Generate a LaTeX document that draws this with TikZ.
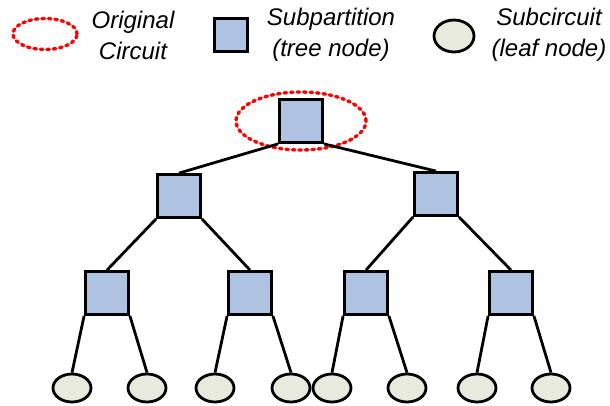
\documentclass[tikz,border=0pt]{standalone}
\usepackage{fontspec}
\setmainfont{Liberation Sans}
\usepackage{tikz}
\usetikzlibrary{shapes}
\definecolor{boxblue}{RGB}{174,194,226}
\definecolor{leafgray}{RGB}{232,234,222}
\definecolor{red}{RGB}{255,0,0}
\begin{document}
\begin{tikzpicture}[x=1pt,y=-1pt]
			\tikzset{tnode/.style={draw, line width=2.8pt, fill=boxblue, minimum size=43pt, inner sep=0pt},
				leaf/.style={draw, ellipse, line width=2.8pt, fill=leafgray, minimum width=38pt, minimum height=28pt, inner sep=0pt},
				orig/.style={draw=red, ellipse, line width=3.4pt, line cap=round, dash pattern=on 2.5pt off 4pt, inner sep=0pt},
				lien/.style={line width=2.8pt},
				legende/.style={align=center, font=\fontsize{24}{31}\selectfont\itshape}};
			\useasboundingbox (0,0) rectangle (610,406);
			% legend
			\node [orig, minimum width=64pt, minimum height=31pt] (legorig) at (45,34) {};
			\node [legende] (txtorig) at (133,35) {Original\\Circuit};
			\node [tnode, minimum size=33pt] (legbox) at (231,35) {};
			\node [legende] (txtbox) at (331,35) {Subpartition\\(tree node)};
			\node [leaf, minimum width=40pt, minimum height=32pt] (legleaf) at (454,36) {};
			\node [legende] (txtleaf) at (549,35) {Subcircuit\\(leaf node)};
			% tree
			\node [tnode] (root) at (301,121) {};
			\node [orig, minimum width=130pt, minimum height=58pt] (circuit) at (301,121) {};
			\node [tnode] (l) at (179,196) {};
			\node [tnode] (r) at (436,194) {};
			\node [tnode] (ll) at (107,293) {};
			\node [tnode] (lr) at (250,293) {};
			\node [tnode] (rl) at (366,293) {};
			\node [tnode] (rr) at (511,293) {};
			\draw[lien] (root.south west) -- (l.north);
			\draw[lien] (root.south east) -- (r.north);
			\draw[lien] (l.south west) -- (ll.north);
			\draw[lien] (l.south east) -- (lr.north);
			\draw[lien] (r.south west) -- (rl.north);
			\draw[lien] (r.south east) -- (rr.north);
			\foreach \n/\a/\b in {ll/72/147, lr/215/291, rl/332/407, rr/477/551}{
				\node [leaf] (\n a) at (\a,388) {};
				\node [leaf] (\n b) at (\b,388) {};
				\draw[lien] (\n.south west) -- (\n a.north);
				\draw[lien] (\n.south east) -- (\n b.north);
			}
\end{tikzpicture}
\end{document}
